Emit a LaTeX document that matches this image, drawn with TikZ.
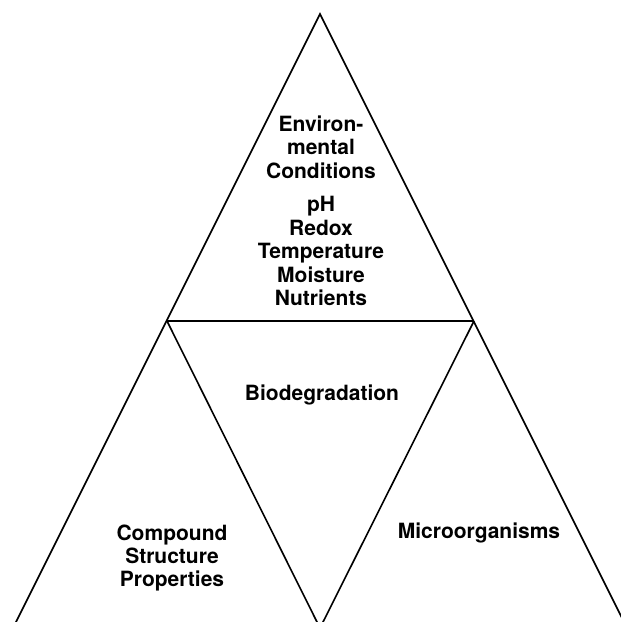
\documentclass[tikz,border=0pt]{standalone}
\usepackage{fontspec}
\setmainfont{TeX Gyre Heros}
\begin{document}
\begin{tikzpicture}[x=1pt,y=-1pt,
  edge/.style={line width=1.6pt,line join=miter},
  lbl/.style={font=\bfseries\fontsize{21}{23.5}\selectfont,align=center,inner sep=0pt}]
\useasboundingbox (0,0) rectangle (621,622);
\begin{scope}
\clip (0,0) rectangle (621,622);
\coordinate (A) at (320,14);
\coordinate (L) at (12,630);
\coordinate (R) at (628,630);
\coordinate (ML) at (167,321);
\coordinate (MR) at (474,321);
\coordinate (MB) at (320,628);
\draw[edge] (L) -- (A) -- (R);
\draw[edge] (ML) -- (MR);
\draw[edge] (ML) -- (MB) -- (MR);
\end{scope}
\node[lbl] (env) at (321,147) {Environ-\\mental\\Conditions};
\node[lbl] (fac) at (321,251) {pH\\Redox\\Temperature\\Moisture\\Nutrients};
\node[lbl] (bio) at (322,395) {Biodegradation};
\node[lbl] (cmp) at (172,558) {Compound\\Structure\\Properties};
\node[lbl] (mic) at (479,533) {Microorganisms};
\end{tikzpicture}
\end{document}
